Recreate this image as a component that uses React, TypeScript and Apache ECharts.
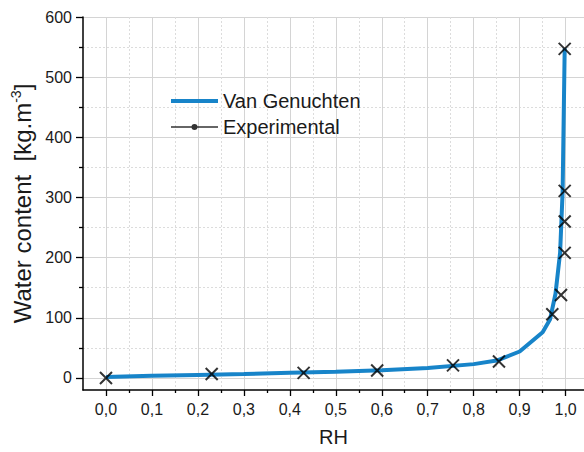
import React, { useEffect, useRef } from "react";
import * as echarts from "echarts";

// Van Genuchten fitted curve (RH, water content kg/m3)
const curveRH = [0, 0.1, 0.2, 0.3, 0.4, 0.5, 0.6, 0.7, 0.8, 0.85, 0.9, 0.95, 0.966, 0.978, 0.988, 0.9935, 0.998];
const curveW = [1.5, 3.5, 5, 6.5, 8.5, 10.5, 13, 16.5, 23, 29, 44, 76, 97, 140, 208, 310, 548];

// Experimental points
const expRH = [0, 0.23, 0.43, 0.59, 0.755, 0.855, 0.971, 0.99, 0.998, 0.998, 0.998, 0.998];
const expW = [0, 6.5, 8.5, 12.5, 21, 27.5, 106, 138, 208, 260, 311, 547];

// Axis ticks
const xMajorTicks = [0, 0.1, 0.2, 0.3, 0.4, 0.5, 0.6, 0.7, 0.8, 0.9, 1.0];
const xMinorTicks = [0.05, 0.15, 0.25, 0.35, 0.45, 0.55, 0.65, 0.75, 0.85, 0.95];
const yMajorTicks = [0, 100, 200, 300, 400, 500, 600];
const yMinorTicks = [50, 150, 250, 350, 450, 550];

const seriesNames = ["Van Genuchten", "Experimental"];

const FONT = "'Liberation Sans', Arial, sans-serif";
const BLUE = "#1784c9";
const TEXT = "#1a1a1a";

export default function App() {
  const ref = useRef<HTMLDivElement>(null);

  useEffect(() => {
    if (!ref.current) return;
    const chart = echarts.init(ref.current, undefined, { renderer: "svg" });

    const xMin = -0.05;
    const xMax = 1.04;
    const yMin = -20;
    const yMax = 600;

    const solidGrid = { show: true, lineStyle: { color: "#d4d4d4", width: 1, type: "solid" as const } };
    const dottedGrid = { show: true, lineStyle: { color: "#dcdcdc", width: 1, type: [2, 2] as any } };

    const option: any = {
      animation: false,
      backgroundColor: "#ffffff",
      textStyle: { fontFamily: FONT },
      grid: { left: 83, right: 0, top: 17, bottom: 62, containLabel: false },
      legend: {
        orient: "vertical",
        left: 171,
        top: 91,
        padding: 0,
        itemWidth: 47,
        itemHeight: 6,
        itemGap: 6,
        selectedMode: false,
        textStyle: { fontSize: 20, color: TEXT, fontFamily: FONT },
        data: [
          {
            name: seriesNames[0],
            icon: "path://M0,1H47V5H0Z M0,0h0.01v0.01h-0.01Z M0,5.99h0.01v0.01h-0.01Z",
            itemStyle: { color: BLUE, borderWidth: 0 },
          },
          {
            name: seriesNames[1],
            icon: "path://M0,2.25H20.6V3.75H0Z M26.4,2.25H47V3.75H26.4Z M26.5,3A3,3 0 1,1 20.5,3A3,3 0 1,1 26.5,3Z",
            itemStyle: { color: "#000", borderWidth: 0 },
          },
        ],
      },
      xAxis: [
        {
          type: "value",
          min: xMin,
          max: xMax,
          name: "RH",
          nameLocation: "middle",
          nameGap: 37,
          nameTextStyle: { fontSize: 20, color: TEXT, fontFamily: FONT },
          axisLine: { show: true, onZero: false, lineStyle: { color: "#000", width: 1.5 } },
          axisTick: { show: true, length: 6, customValues: xMajorTicks, lineStyle: { color: "#000", width: 1.3 } },
          axisLabel: {
            show: true,
            customValues: xMajorTicks,
            margin: 11,
            fontSize: 16,
            color: TEXT,
            fontFamily: FONT,
            formatter: (v: number) => v.toFixed(1).replace(".", ","),
          },
          splitLine: solidGrid,
        },
        {
          type: "value",
          min: xMin,
          max: xMax,
          position: "bottom",
          axisLine: { show: false, onZero: false },
          axisTick: { show: true, length: 3, customValues: xMinorTicks, lineStyle: { color: "#000", width: 1.3 } },
          axisLabel: { show: false, customValues: xMinorTicks },
          splitLine: dottedGrid,
        },
      ],
      yAxis: [
        {
          type: "value",
          min: yMin,
          max: yMax,
          name: "{a|Water content  [kg.m}{s|-3}{a|]}",
          nameLocation: "middle",
          nameGap: 44,
          nameTextStyle: {
            fontFamily: FONT,
            rich: {
              a: { fontSize: 24, color: TEXT, fontFamily: FONT, lineHeight: 27 },
              s: { fontSize: 14, color: TEXT, fontFamily: FONT, lineHeight: 18, verticalAlign: "top" },
            },
          },
          axisLine: { show: true, onZero: false, lineStyle: { color: "#000", width: 1.5 } },
          axisTick: { show: true, length: 7, customValues: yMajorTicks, lineStyle: { color: "#000", width: 1.3 } },
          axisLabel: {
            show: true,
            customValues: yMajorTicks,
            margin: 11,
            fontSize: 16,
            color: TEXT,
            fontFamily: FONT,
          },
          splitLine: solidGrid,
        },
        {
          type: "value",
          min: yMin,
          max: yMax,
          position: "left",
          axisLine: { show: false, onZero: false },
          axisTick: { show: true, length: 4, customValues: yMinorTicks, lineStyle: { color: "#000", width: 1.3 } },
          axisLabel: { show: false, customValues: yMinorTicks },
          splitLine: dottedGrid,
        },
      ],
      series: [
        {
          name: seriesNames[0],
          type: "line",
          xAxisIndex: 0,
          yAxisIndex: 0,
          data: curveRH.map((x, i) => [x, curveW[i]]),
          showSymbol: false,
          symbol: "none",
          lineStyle: { color: BLUE, width: 4 },
          itemStyle: { color: BLUE },
          z: 3,
        },
        {
          name: seriesNames[1],
          type: "scatter",
          xAxisIndex: 0,
          yAxisIndex: 0,
          data: expRH.map((x, i) => [x, expW[i]]),
          symbol: "path://M0,0L10,10M10,0L0,10",
          symbolSize: 12,
          itemStyle: { color: "none", borderColor: "#000", borderWidth: 2 },
          z: 4,
        },
      ],
    };

    chart.setOption(option);
    return () => chart.dispose();
  }, []);

  return (
    <div
      ref={ref}
      style={{ position: "fixed", left: 0, top: 0, width: 584, height: 452, background: "#fff" }}
    />
  );
}
